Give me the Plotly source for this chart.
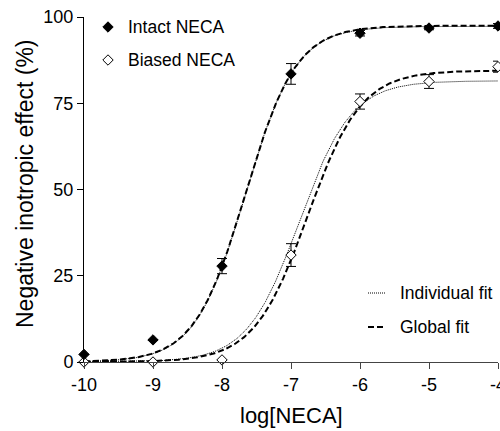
import numpy as np
import plotly.graph_objects as go

# ---- data ----
log_neca = [-10, -9, -8, -7, -6, -5, -4]
intact_mean = [2.2, 6.4, 27.8, 83.5, 95.3, 96.8, 97.4]
intact_sem = [0.0, 0.0, 2.2, 3.0, 0.8, 0.5, 0.7]
biased_mean = [0.0, 0.0, 0.6, 31.0, 75.5, 81.3, 85.6]
biased_sem = [0.0, 0.0, 0.0, 3.3, 2.2, 2.0, 1.6]

# fitted sigmoid parameters (top, logEC50, hill), bottom = 0
intact_global = (97.5, -7.66, 1.18)
intact_indiv = (97.3, -7.66, 1.19)
biased_global = (84.5, -6.76, 1.12)
biased_indiv = (81.5, -6.88, 1.15)

x_ticks = [-10, -9, -8, -7, -6, -5, -4]
y_ticks = [0, 25, 50, 75, 100]

FONT = "Liberation Sans, Arial, sans-serif"

W, H = 500, 431
L, R, T, B = 84, 498, 17, 362  # plot area in pixels


def sigmoid(params, x):
    top, ec50, hill = params
    return top / (1.0 + 10.0 ** (hill * (ec50 - x)))


def paper_x(px):
    return (px - L) / (R - L)


def paper_y(py):
    return (B - py) / (B - T)


xs = np.linspace(-10, -4, 400)

fig = go.Figure()

dot_style = dict(color="black", width=1, dash="1px,1px")
dash_style = dict(color="black", width=2, dash="6px,3px")

for p in (intact_indiv, biased_indiv):
    fig.add_trace(go.Scatter(x=xs, y=sigmoid(p, xs), mode="lines", line=dot_style,
                             showlegend=False, hoverinfo="skip"))
for p in (intact_global, biased_global):
    fig.add_trace(go.Scatter(x=xs, y=sigmoid(p, xs), mode="lines", line=dash_style,
                             showlegend=False, hoverinfo="skip"))

fig.add_trace(go.Scatter(
    x=log_neca, y=biased_mean, mode="markers", cliponaxis=False,
    marker=dict(symbol="diamond", size=8, color="white", line=dict(color="black", width=1)),
    error_y=dict(type="data", array=biased_sem, color="black", thickness=1, width=5),
    showlegend=False))
fig.add_trace(go.Scatter(
    x=log_neca, y=intact_mean, mode="markers", cliponaxis=False,
    marker=dict(symbol="diamond", size=8, color="black", line=dict(color="black", width=1)),
    error_y=dict(type="data", array=intact_sem, color="black", thickness=1, width=5),
    showlegend=False))

# ---- manual legend (pixel overlay axes) ----
fig.add_trace(go.Scatter(
    x=[108], y=[27], mode="markers", xaxis="x2", yaxis="y2", cliponaxis=False,
    marker=dict(symbol="diamond", size=8, color="black", line=dict(color="black", width=1)),
    showlegend=False, hoverinfo="skip"))
fig.add_trace(go.Scatter(
    x=[108], y=[60], mode="markers", xaxis="x2", yaxis="y2", cliponaxis=False,
    marker=dict(symbol="diamond", size=8, color="white", line=dict(color="black", width=1)),
    showlegend=False, hoverinfo="skip"))
fig.add_trace(go.Scatter(
    x=[368, 385], y=[293, 293], mode="lines", xaxis="x2", yaxis="y2",
    line=dot_style, showlegend=False, hoverinfo="skip"))
fig.add_trace(go.Scatter(
    x=[368, 386], y=[327, 327], mode="lines", xaxis="x2", yaxis="y2",
    line=dash_style, showlegend=False, hoverinfo="skip"))

legend_texts = [("Intact NECA", 126, 27), ("Biased NECA", 126, 60),
                ("Individual fit", 398, 293), ("Global fit", 398, 327)]
annotations = []
for txt, px, py in legend_texts:
    annotations.append(dict(text=txt, x=paper_x(px), y=paper_y(py), xref="paper",
                            yref="paper", xanchor="left", yanchor="middle",
                            showarrow=False,
                            font=dict(family=FONT, size=17.5, color="black")))

annotations.append(dict(text="log[NECA]", x=paper_x(291), y=paper_y(415),
                        xref="paper", yref="paper",
                        xanchor="center", yanchor="middle", showarrow=False,
                        font=dict(family=FONT, size=22, color="black")))
annotations.append(dict(text="Negative inotropic effect (%)", x=paper_x(25),
                        y=paper_y(184), xref="paper", yref="paper", textangle=-90,
                        xanchor="center", yanchor="middle", showarrow=False,
                        font=dict(family=FONT, size=23, color="black")))

fig.update_layout(
    width=W, height=H,
    margin=dict(l=L, r=W - R, t=T, b=H - B, pad=0),
    paper_bgcolor="white", plot_bgcolor="white",
    font=dict(family=FONT, size=18, color="black"),
    xaxis=dict(range=[-10, -4], tickvals=x_ticks, ticktext=[str(v) for v in x_ticks],
               showgrid=False, zeroline=False, showline=True, linecolor="#444",
               linewidth=1, ticks="outside", ticklen=6, tickcolor="#444",
               tickfont=dict(family=FONT, size=18), automargin=False,
               ticklabeloverflow="allow"),
    yaxis=dict(range=[0, 100], tickvals=y_ticks, showgrid=False, zeroline=False,
               showline=True, linecolor="black", linewidth=1, ticks="outside",
               ticklen=6, tickcolor="black", tickfont=dict(family=FONT, size=18),
               automargin=False, ticklabeloverflow="allow"),
    xaxis2=dict(range=[L, R], overlaying="x", visible=False, fixedrange=True),
    yaxis2=dict(range=[B, T], overlaying="y", visible=False, fixedrange=True),
    annotations=annotations,
    showlegend=False,
)

fig.write_html("out.html", config={"displayModeBar": False},
               post_script="document.body.style.margin='0';document.body.style.overflow='hidden';")
